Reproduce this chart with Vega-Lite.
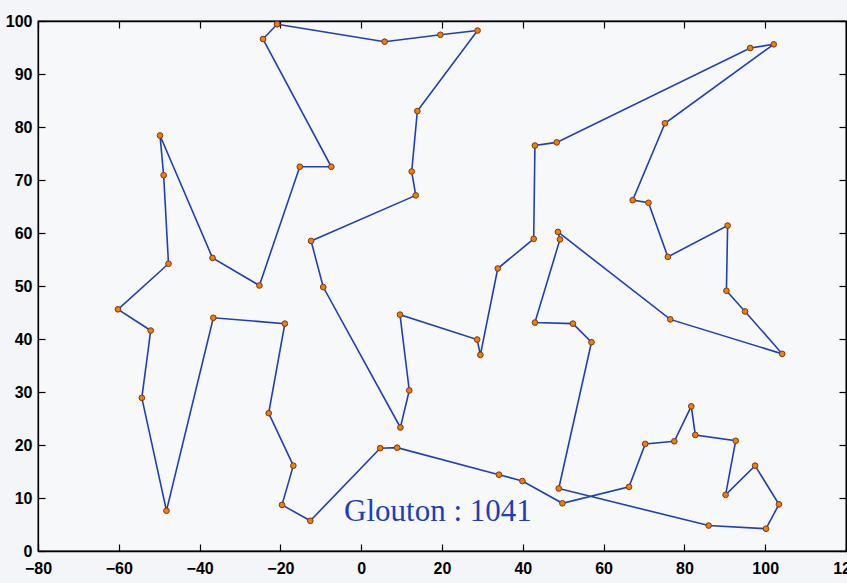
{
  "$schema": "https://vega.github.io/schema/vega-lite/v6.json",
  "autosize": "none",
  "width": 808,
  "height": 530,
  "padding": {"left": 38, "top": 21, "right": 1, "bottom": 32},
  "background": "#f3f5f8",
  "config": {
    "view": {"stroke": "black", "strokeWidth": 1.3, "fill": "#f7f8fa"},
    "axis": {
      "grid": false,
      "domainColor": "black",
      "domainWidth": 1.3,
      "tickColor": "black",
      "tickSize": -7,
      "tickWidth": 1.2,
      "labelPadding": 16,
      "labelFlush": false,
      "labelOverlap": false,
      "labelFont": "Liberation Sans Narrow, Liberation Sans",
      "labelFontWeight": "bold",
      "labelFontSize": 16,
      "labelColor": "black",
      "title": null
    }
  },
  "data": {
    "values": [
      {"order": 1, "x": -20.8, "y": 99.4},
      {"order": 2, "x": 5.8, "y": 96.1},
      {"order": 3, "x": 19.6, "y": 97.4},
      {"order": 4, "x": 28.8, "y": 98.2},
      {"order": 5, "x": 13.9, "y": 83.0},
      {"order": 6, "x": 12.5, "y": 71.6},
      {"order": 7, "x": 13.5, "y": 67.1},
      {"order": 8, "x": -12.4, "y": 58.5},
      {"order": 9, "x": -9.4, "y": 49.8},
      {"order": 10, "x": 9.7, "y": 23.3},
      {"order": 11, "x": 11.9, "y": 30.3},
      {"order": 12, "x": 9.6, "y": 44.6},
      {"order": 13, "x": 28.7, "y": 39.9},
      {"order": 14, "x": 29.5, "y": 37.0},
      {"order": 15, "x": 33.8, "y": 53.3},
      {"order": 16, "x": 42.7, "y": 58.9},
      {"order": 17, "x": 43.0, "y": 76.5},
      {"order": 18, "x": 48.4, "y": 77.1},
      {"order": 19, "x": 96.3, "y": 94.9},
      {"order": 20, "x": 102.1, "y": 95.6},
      {"order": 21, "x": 75.2, "y": 80.7},
      {"order": 22, "x": 67.2, "y": 66.2},
      {"order": 23, "x": 71.1, "y": 65.7},
      {"order": 24, "x": 75.9, "y": 55.5},
      {"order": 25, "x": 90.7, "y": 61.4},
      {"order": 26, "x": 90.4, "y": 49.1},
      {"order": 27, "x": 95.0, "y": 45.2},
      {"order": 28, "x": 104.2, "y": 37.2},
      {"order": 29, "x": 76.5, "y": 43.7},
      {"order": 30, "x": 48.7, "y": 60.2},
      {"order": 31, "x": 49.2, "y": 58.8},
      {"order": 32, "x": 43.0, "y": 43.1},
      {"order": 33, "x": 52.4, "y": 42.9},
      {"order": 34, "x": 57.0, "y": 39.4},
      {"order": 35, "x": 48.9, "y": 11.8},
      {"order": 36, "x": 86.0, "y": 4.8},
      {"order": 37, "x": 100.2, "y": 4.2},
      {"order": 38, "x": 103.4, "y": 8.8},
      {"order": 39, "x": 97.5, "y": 16.1},
      {"order": 40, "x": 90.2, "y": 10.6},
      {"order": 41, "x": 92.7, "y": 20.8},
      {"order": 42, "x": 82.7, "y": 21.9},
      {"order": 43, "x": 81.7, "y": 27.3},
      {"order": 44, "x": 77.5, "y": 20.7},
      {"order": 45, "x": 70.3, "y": 20.2},
      {"order": 46, "x": 66.3, "y": 12.1},
      {"order": 47, "x": 49.8, "y": 9.0},
      {"order": 48, "x": 39.9, "y": 13.2},
      {"order": 49, "x": 34.1, "y": 14.4},
      {"order": 50, "x": 8.9, "y": 19.5},
      {"order": 51, "x": 4.7, "y": 19.4},
      {"order": 52, "x": -12.6, "y": 5.7},
      {"order": 53, "x": -19.6, "y": 8.7},
      {"order": 54, "x": -16.8, "y": 16.1},
      {"order": 55, "x": -22.9, "y": 26.0},
      {"order": 56, "x": -18.9, "y": 42.9},
      {"order": 57, "x": -36.6, "y": 44.0},
      {"order": 58, "x": -48.2, "y": 7.6},
      {"order": 59, "x": -54.3, "y": 28.9},
      {"order": 60, "x": -52.1, "y": 41.6},
      {"order": 61, "x": -60.2, "y": 45.6},
      {"order": 62, "x": -47.7, "y": 54.2},
      {"order": 63, "x": -48.9, "y": 70.9},
      {"order": 64, "x": -49.8, "y": 78.4},
      {"order": 65, "x": -36.8, "y": 55.3},
      {"order": 66, "x": -25.2, "y": 50.1},
      {"order": 67, "x": -15.2, "y": 72.5},
      {"order": 68, "x": -7.4, "y": 72.5},
      {"order": 69, "x": -24.3, "y": 96.6},
      {"order": 70, "x": -20.8, "y": 99.4}
    ]
  },
  "layer": [
    {
      "mark": {"type": "line", "color": "#1f3fb8", "strokeWidth": 1.6},
      "encoding": {
        "x": {"field": "x", "type": "quantitative", "scale": {"domain": [-80, 120], "nice": false, "zero": false},
              "axis": {"orient": "bottom", "values": [-80, -60, -40, -20, 0, 20, 40, 60, 80, 100, 120]}},
        "y": {"field": "y", "type": "quantitative", "scale": {"domain": [0, 100], "nice": false, "zero": false},
              "axis": {"orient": "left", "values": [0, 10, 20, 30, 40, 50, 60, 70, 80, 90, 100], "labelPadding": 13}},
        "order": {"field": "order", "type": "quantitative"}
      }
    },
    {
      "mark": {"type": "point", "filled": true, "fill": "#e8820f", "stroke": "#8a3200", "strokeWidth": 1, "size": 32, "opacity": 1},
      "encoding": {
        "x": {"field": "x", "type": "quantitative",
              "axis": {"orient": "top", "labels": false, "values": [-80, -60, -40, -20, 0, 20, 40, 60, 80, 100, 120]}},
        "y": {"field": "y", "type": "quantitative",
              "axis": {"orient": "right", "labels": false, "values": [0, 10, 20, 30, 40, 50, 60, 70, 80, 90, 100]}}
      }
    },
    {
      "data": {"values": [{"label": "Glouton : 1041", "x": 19.0, "y": 7.4}]},
      "mark": {"type": "text", "font": "Liberation Serif", "fontSize": 31, "color": "#1f3fb8", "align": "center", "baseline": "middle"},
      "encoding": {
        "x": {"field": "x", "type": "quantitative", "axis": null},
        "y": {"field": "y", "type": "quantitative", "axis": null},
        "text": {"field": "label"}
      }
    }
  ],
  "resolve": {"axis": {"x": "independent", "y": "independent"}}
}
